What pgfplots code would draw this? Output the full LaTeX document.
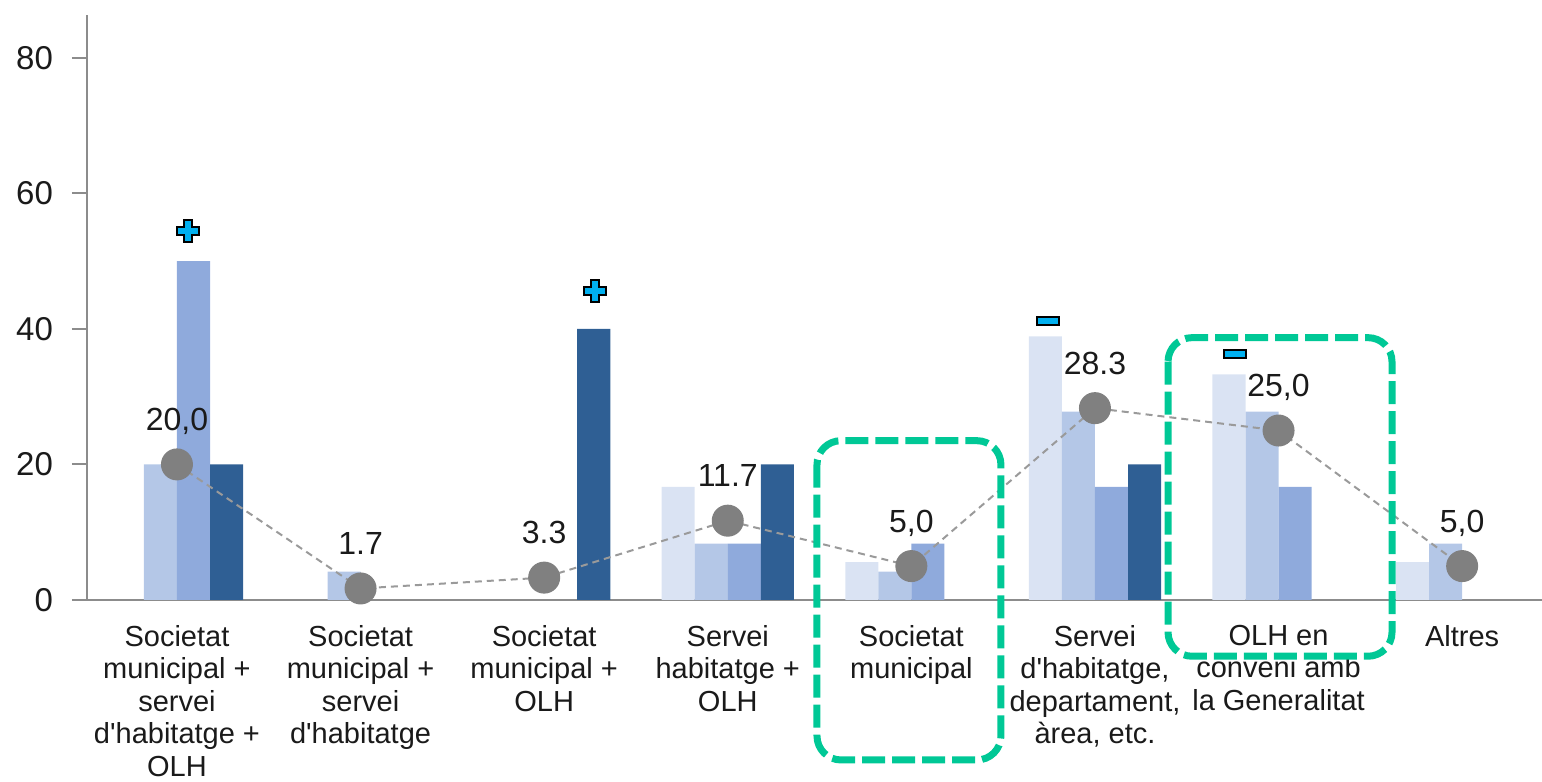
\documentclass[border=0pt]{standalone}
\usepackage{fontspec}
\setmainfont{Liberation Sans}
\usepackage{pgfplots}
\pgfplotsset{compat=1.18}

\definecolor{vlight}{HTML}{DAE3F3}
\definecolor{lightb}{HTML}{B4C7E7}
\definecolor{medb}{HTML}{8FAADC}
\definecolor{darkb}{HTML}{2F5F94}
\definecolor{dotgray}{HTML}{808080}
\definecolor{linegray}{HTML}{9A9A9A}
\definecolor{axgray}{HTML}{8C8C8C}
\definecolor{greenc}{HTML}{00C896}
\definecolor{cyanc}{HTML}{00B0F0}
\definecolor{txt}{HTML}{1A1A1A}

\pgfdeclareplotmark{bplus}{%
  \pgfpathmoveto{\pgfpoint{-2pt}{-5.5pt}}%
  \pgfpathlineto{\pgfpoint{2pt}{-5.5pt}}%
  \pgfpathlineto{\pgfpoint{2pt}{-2pt}}%
  \pgfpathlineto{\pgfpoint{5.5pt}{-2pt}}%
  \pgfpathlineto{\pgfpoint{5.5pt}{2pt}}%
  \pgfpathlineto{\pgfpoint{2pt}{2pt}}%
  \pgfpathlineto{\pgfpoint{2pt}{5.5pt}}%
  \pgfpathlineto{\pgfpoint{-2pt}{5.5pt}}%
  \pgfpathlineto{\pgfpoint{-2pt}{2pt}}%
  \pgfpathlineto{\pgfpoint{-5.5pt}{2pt}}%
  \pgfpathlineto{\pgfpoint{-5.5pt}{-2pt}}%
  \pgfpathlineto{\pgfpoint{-2pt}{-2pt}}%
  \pgfpathclose
  \pgfusepathqfillstroke}
\pgfdeclareplotmark{bminus}{%
  \pgfpathrectangle{\pgfpoint{-5.5pt}{-2pt}}{\pgfpoint{11pt}{4pt}}%
  \pgfusepathqfillstroke}

\pgfplotstableread{
x y
3 16.7
4 5.6
5 38.9
6 33.3
7 5.6
}\vlightdata
\pgfplotstableread{
x y
0 20
1 4.2
3 8.3
4 4.2
5 27.8
6 27.8
7 8.3
}\lightdata
\pgfplotstableread{
x y
0 50
3 8.3
4 8.3
5 16.7
6 16.7
}\meddata
\pgfplotstableread{
x y
0 20
2 40
3 20
5 20
}\darkdata
\pgfplotstableread{
x y label
0 20.0 {20,0}
1 1.7 {1.7}
2 3.3 {3.3}
3 11.7 {11.7}
4 5.0 {5,0}
5 28.3 {28.3}
6 25.0 {25,0}
7 5.0 {5,0}
}\totaldata

\begin{document}
\begin{tikzpicture}
\begin{axis}[
  scale only axis, width=727.5pt, height=292.5pt,
  xmin=-0.49, xmax=7.435, ymin=0, ymax=86.3,
  axis lines=left,
  axis line style={-, draw=axgray, line width=1pt},
  ytick={0,20,40,60,80},
  tick align=outside, major tick length=7.5pt,
  ytick style={draw=axgray, line width=1pt},
  xtick={0,1,2,3,4,5,6,7},
  xtick style={draw=none},
  xticklabels={
    {Societat\\municipal +\\servei\\d\textquotesingle habitatge +\\OLH},
    {Societat\\municipal +\\servei\\d\textquotesingle habitatge},
    {Societat\\municipal +\\OLH},
    {Servei\\habitatge +\\OLH},
    {Societat\\municipal},
    {Servei\\d\textquotesingle habitatge,\\departament,\\àrea, etc.},
    {OLH en\\conveni amb\\la Generalitat},
    {Altres}},
  xticklabel style={align=center, font=\fontsize{14.5}{16.25}\selectfont, text=txt, anchor=north, yshift=-1.5pt},
  yticklabel style={font=\fontsize{16.5}{19}\selectfont, text=txt, xshift=-6pt},
  /pgf/number format/assume math mode=true,
  clip=false,
]
\addplot[ybar, bar width=0.18, bar shift=-0.27, fill=vlight, draw=none] table[x=x,y=y] {\vlightdata};
\addplot[ybar, bar width=0.18, bar shift=-0.09, fill=lightb, draw=none] table[x=x,y=y] {\lightdata};
\addplot[ybar, bar width=0.18, bar shift=0.09, fill=medb, draw=none] table[x=x,y=y] {\meddata};
\addplot[ybar, bar width=0.18, bar shift=0.27, fill=darkb, draw=none] table[x=x,y=y] {\darkdata};

\addplot[color=linegray, line width=1pt, dash pattern=on 3.5pt off 2.5pt,
  mark=*, mark size=7.5pt, mark options={solid, fill=dotgray, draw=dotgray},
  point meta=explicit symbolic, nodes near coords,
  every node near coord/.append style={anchor=base, yshift=17pt, font=\fontsize{16}{19}\selectfont, text=txt}]
  table[x=x, y=y, meta=label] {\totaldata};

\addplot[only marks, mark=bplus, mark options={fill=cyanc, draw=black, line width=1pt}]
  coordinates {(0.06,54.5) (2.277,45.6)};
\addplot[only marks, mark=bminus, mark options={fill=cyanc, draw=black, line width=1pt}]
  coordinates {(4.744,41.2) (5.762,36.3)};

\draw[greenc, line width=3.5pt, dash pattern=on 11.5pt off 3.5pt, rounded corners=12pt]
  (axis cs:3.486,23.5) rectangle (axis cs:4.488,-23.6);
\draw[greenc, line width=3.5pt, dash pattern=on 11.5pt off 3.5pt, rounded corners=12pt]
  (axis cs:5.398,38.7) rectangle (axis cs:6.618,-8.3);
\end{axis}
\pgfresetboundingbox
\path[use as bounding box] ([shift={(-43.5pt,-91pt)}]current axis.south west) rectangle ([shift={(0pt,7.5pt)}]current axis.north east);
\end{tikzpicture}
\end{document}
